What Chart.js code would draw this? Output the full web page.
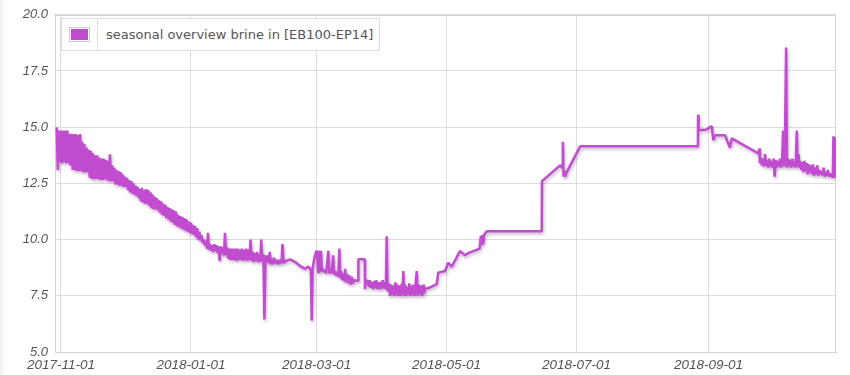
<!DOCTYPE html>
<html>
<head>
<meta charset="utf-8">
<script src="https://cdn.jsdelivr.net/npm/chart.js@4.4.1/dist/chart.umd.min.js"></script>
<style>
  html, body { margin: 0; padding: 0; background: #fff; }
  #wrap { position: relative; width: 850px; height: 375px; }
  #edge { position: absolute; left: 0; top: 0; width: 3px; height: 375px; background: #f2f2f2; }
  #legend {
    position: absolute; left: 61px; top: 18px; width: 317px; height: 31px;
    border: 1px solid #ddd; background: #fff; display: flex; align-items: center;
    font: 13px "DejaVu Sans", sans-serif; color: #555;
  }
  #legend .sw { width: 35px; height: 100%; border-right: 1px solid #ddd; display: flex; align-items: center; justify-content: center; }
  #legend .sw span { display: block; border: 1px solid #ccc; padding: 1px; }
  #legend .sw i { display: block; width: 17px; height: 11px; background: #c24ccf; }
  #legend .txt { padding-left: 8px; white-space: nowrap; }
</style>
</head>
<body>
<div id="wrap">
  <canvas id="chart" width="850" height="375"></canvas>
  <div id="edge"></div>
  <div id="legend"><div class="sw"><span><i></i></span></div><div class="txt" id="legendText"></div></div>
</div>
<script>
// ── seasonal brine chart ─────────────────────────────────────────────

const seriesLabel = "seasonal overview brine in [EB100-EP14]";
const startDate = "2017-11-01";
const tickLabels = ["2017-11-01", "2018-01-01", "2018-03-01", "2018-05-01", "2018-07-01", "2018-09-01"];
const yTicks = [5, 7.5, 10, 12.5, 15, 17.5, 20];

// days since 2017-11-01
const days = [
  -2,-1.5,-1,-0.5,0,0.5,1,1.5,2,2.5,3,3.5,4,4.5,5,5.5,6,6.5,7,7.5,8,8.5,9,9.5,10,10.5,11,11.5,12,12.5,
  13,13.5,14,14.5,15,15.5,16,16.5,17,17.5,18,18.5,19,19.5,20,20.5,21,21.5,22,22.5,23,23.5,24,24.5,25,25.5,
  26,26.5,27,27.5,28,28.5,29,29.5,30,30.5,31,31.5,32,32.5,33,33.5,34,34.5,35,35.5,36,36.5,37,37.5,38,38.5,
  39,39.5,40,40.5,41,41.5,42,42.5,43,43.5,44,44.5,45,45.5,46,46.5,47,47.5,48,48.5,49,49.5,50,50.5,51,51.5,
  52,52.5,53,53.5,54,54.5,55,55.5,56,56.5,57,57.5,58,58.5,59,59.5,60,60.5,61,61.5,62,62.5,63,63.5,64,64.5,
  65,65.5,66,66.5,67,67.5,68,68.5,69,69.5,70,70.5,71,71.5,72,72.5,73,73.5,74,74.5,75,75.5,76,76.5,77,77.5,
  78,78.5,79,79.5,80,80.5,81,81.5,82,82.5,83,83.5,84,84.5,85,85.5,86,86.5,87,87.5,88,88.5,89,89.5,90,90.5,
  91,91.5,92,92.5,93,93.5,94,94.5,95,95.5,96,96.5,97,97.5,98,98.5,99,99.5,100,100.5,101,101.5,102,102.5,
  103,103.5,104,104.5,
  105.5,107.5,110,112.2,114.6,116.1,117.3,117.7,118.1,119,119.7,120.2,120.7,121.1,121.6,
  122,122.5,123,123.5,124,124.5,125.5,126,126.5,127,127.8,128.2,128.8,129.2,129.8,130.2,130.7,131.1,
  131.5,132,132.5,133,133.4,133.8,134.5,135,135.5,136,136.5,137,137.5,138.5,139.5,139.6,142.6,142.7,143,
  144,144.5,145,145.5,146,146.5,147,147.5,148,148.5,149,149.5,150,150.5,151,151.5,152,152.5,152.9,153.3,
  154,154.5,155,155.5,156,156.5,157,157.5,158,158.5,159,159.5,160,160.3,160.7,161.1,
  161.5,162,162.5,163,163.5,164,164.5,165,165.5,166,167,167.4,168,168.5,169,169.5,170,170.4,
  170.9,173.2,176.4,177.1,180.3,
  181.8,183.4,187.3,189.7,191.2,196.5,197.1,197.4,197.8,198.2,198.6,199.9,225.7,225.8,
  234.3,235.3,235.6,235.9,236.3,236.7,237.4,243.7,299.0,
  299.1,299.3,303,305.5,306.2,307,311.7,314,314.9,327.4,327.8,328.1,
  328.5,329,329.5,330,330.5,331,331.5,332,332.5,333,333.5,334,334.5,335,335.5,336,336.5,337,337.5,338,
  338.5,339,339.5,339.9,340.4,340.8,341.3,341.8,342.3,342.8,343.3,343.8,344.3,344.8,345.4,345.8,346.2,346.6,
  347,347.5,348,348.5,349,349.5,350,350.5,351,351.5,352,352.5,353,353.5,354,354.5,355,355.5,356,356.5,
  357,357.5,358,358.5,359,359.5,360,360.5,361,361.5,362,362.3,362.6,362.9,363.2
];

const brine = [
  15.0,13.1,14.85,13.45,14.85,13.4,14.85,13.45,14.85,13.4,14.85,13.4,14.7,13.3,14.7,13.1,14.7,13.1,14.7,13.05,
  14.65,13.05,14.7,13.05,14.35,13.0,14.25,13.0,14.1,13.0,14.0,12.75,13.95,12.7,13.85,12.7,13.75,12.7,13.75,12.7,
  13.65,12.65,13.6,12.65,13.6,12.7,13.55,12.65,13.5,12.6,13.8,12.6,13.3,12.6,13.2,12.45,13.1,12.45,13.05,12.4,
  13.0,12.4,12.9,12.35,12.8,12.35,12.75,12.2,12.65,12.1,12.6,12.05,12.5,12.0,12.4,11.95,12.35,11.85,12.25,11.7,
  12.3,11.65,12.2,11.6,12.25,11.6,12.2,11.5,12.1,11.4,12.0,11.35,11.9,11.35,11.85,11.3,11.75,11.2,11.7,11.1,
  11.6,11.05,11.55,10.95,11.45,10.9,11.4,10.8,11.35,10.75,11.3,10.65,11.25,10.6,11.1,10.55,11.05,10.5,11.0,10.45,
  10.95,10.4,10.9,10.35,10.8,10.3,10.75,10.25,10.65,10.2,10.6,10.1,10.5,10.0,
  10.35,9.95,10.2,9.85,10.0,9.75,9.95,9.6,10.3,9.55,9.8,9.5,9.75,9.45,9.8,9.5,9.75,9.4,9.7,9.05,
  9.7,9.4,9.65,9.3,10.3,9.3,9.65,9.15,9.6,9.1,9.6,9.1,9.6,9.1,9.6,9.05,9.6,9.1,9.55,9.1,
  9.6,9.05,9.55,9.1,9.6,9.05,9.55,9.1,10.0,9.05,9.45,9.0,9.4,9.05,9.45,9.0,9.35,9.0,10.0,9.05,
  9.35,6.45,9.3,9.0,9.3,8.95,9.45,8.9,9.15,8.9,9.2,8.95,9.1,8.9,9.1,8.9,9.1,8.95,9.8,8.95,
  9.05,9.12,9.0,8.83,8.7,8.8,8.65,6.4,8.7,9.2,9.45,9.5,8.55,9.5,8.6,
  9.5,8.6,8.7,8.55,8.65,8.5,9.5,8.5,8.65,8.5,9.3,8.45,8.6,8.4,8.55,8.35,9.6,8.3,
  8.6,8.2,8.5,8.15,8.7,8.1,8.45,8.05,8.4,8.0,8.35,8.05,8.2,8.17,8.17,9.13,9.13,7.8,8.2,
  8.15,7.9,8.2,7.85,8.1,7.8,8.15,7.85,8.2,7.8,8.1,7.8,8.1,7.8,8.2,7.85,8.1,7.8,10.15,7.7,
  8.05,7.5,8.0,7.55,7.95,7.5,8.1,7.55,8.0,7.5,7.95,7.5,8.05,7.55,8.6,7.5,
  8.0,7.5,7.9,7.55,8.05,7.5,7.95,7.55,8.0,7.5,8.6,7.5,8.0,7.55,7.95,7.5,8.0,7.6,
  7.8,7.87,8.02,8.53,8.6,
  8.97,8.8,9.49,9.3,9.4,9.6,10.15,9.75,10.2,9.8,10.2,10.37,10.37,12.6,
  13.3,13.2,14.35,12.8,13.05,12.8,13.0,14.15,14.15,
  15.55,14.86,14.9,15.05,14.42,14.64,14.64,14.1,14.5,13.83,14.05,13.4,
  13.65,13.3,13.6,13.25,13.8,13.3,13.55,13.2,13.6,13.25,13.5,13.2,13.6,12.8,13.55,13.2,13.5,13.25,13.6,13.2,
  13.55,14.85,13.25,14.85,18.55,13.2,13.6,13.25,13.55,13.2,13.6,13.25,13.5,13.2,14.85,13.25,13.8,13.2,
  13.5,13.1,13.45,13.0,13.5,13.05,13.4,12.9,13.35,13.0,13.3,12.9,13.35,12.85,13.2,12.9,13.3,12.85,13.1,12.9,
  13.05,12.85,13.2,12.8,13.0,12.85,13.1,12.8,12.95,12.8,12.9,12.75,14.6,12.8,14.55
];

document.getElementById("legendText").textContent = seriesLabel;

const dayOf = s => (Date.parse(s) - Date.parse(startDate)) / 86400000;
const tickDays = tickLabels.map(dayOf);

const tickFont = { family: "'Liberation Sans', Arial, sans-serif", size: 13, style: "italic" };

// soft drop shadow under the line, like the original
const lineShadow = {
  id: "lineShadow",
  beforeDatasetDraw(chart) {
    const ctx = chart.ctx;
    ctx.save();
    ctx.shadowColor = "rgba(90,40,100,0.35)";
    ctx.shadowBlur = 3;
    ctx.shadowOffsetX = 1;
    ctx.shadowOffsetY = 2;
  },
  afterDatasetDraw(chart) {
    chart.ctx.restore();
  },
};

// plot frame (right edge has no tick line of its own)
const frame = {
  id: "frame",
  beforeDatasetsDraw(chart) {
    const { ctx, chartArea: a } = chart;
    ctx.save();
    ctx.strokeStyle = "#d4d4d4";
    ctx.lineWidth = 1;
    ctx.strokeRect(Math.round(a.left) + 0.5, Math.round(a.top) + 0.5, Math.round(a.right - a.left) - 1, Math.round(a.bottom - a.top));
    ctx.restore();
  },
};

new Chart(document.getElementById("chart"), {
  type: "line",
  data: {
    datasets: [
      {
        label: seriesLabel,
        data: days.map((d, i) => ({ x: d, y: brine[i] })),
        borderColor: "#c24ccf",
        borderWidth: 2.5,
        borderJoinStyle: "bevel",
        pointRadius: 0,
        fill: false,
        tension: 0,
      },
    ],
  },
  options: {
    responsive: false,
    animation: false,
    layout: { padding: { top: 12, right: 14, left: 0, bottom: 0 } },
    plugins: { legend: { display: false }, tooltip: { enabled: false } },
    scales: {
      x: {
        type: "linear",
        min: -2.8,
        max: 363.8,
        afterBuildTicks: s => { s.ticks = tickDays.map(v => ({ value: v })); },
        afterFit: s => { s.height = 23; },
        ticks: {
          autoSkip: false,
          maxRotation: 0,
          padding: 5,
          font: { ...tickFont, size: 13.5 },
          color: "#555",
          callback: (v, i) => tickLabels[i],
        },
        grid: { color: "#dcdcdc", drawTicks: false },
        border: { color: "#c8c8c8" },
      },
      y: {
        min: 5,
        max: 20,
        afterBuildTicks: s => { s.ticks = yTicks.map(v => ({ value: v })); },
        afterFit: s => { s.width = 55; },
        ticks: {
          padding: 7,
          font: tickFont,
          color: "#555",
          callback: v => v.toFixed(1),
        },
        grid: { color: "#dcdcdc", drawTicks: false },
        border: { color: "#c8c8c8" },
      },
    },
  },
  plugins: [frame, lineShadow],
});
</script>
</body>
</html>
